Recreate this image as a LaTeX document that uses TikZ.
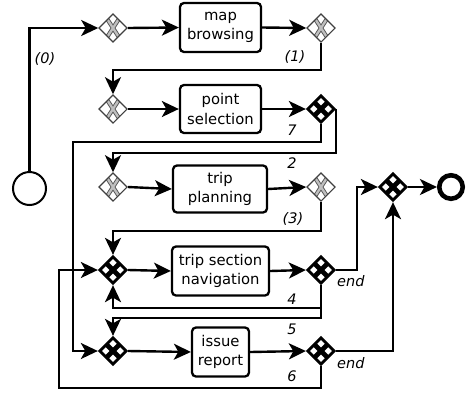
\documentclass[tikz,border=0pt]{standalone}
\usepackage{fontspec}
\setmainfont{DejaVu Sans}[ItalicFont={DejaVu Sans Oblique}]
\usetikzlibrary{shapes.geometric,arrows.meta}

\begin{document}
\begin{tikzpicture}[x=1pt,y=-1pt,
  flow/.style={line width=2.4pt,-{Stealth[length=17pt,width=16pt,inset=4.5pt]}},
  task/.style={draw,line width=2.3pt,rounded corners=4pt,inner sep=0pt,
    align=center,font=\fontsize{14.8}{19.5}\selectfont},
  gw/.style={diamond,inner sep=0pt},
  xorlight/.style={gw,minimum width=28.5pt,minimum height=28.5pt,draw=black!75,line width=1.1pt,
    path picture={
      \draw[line width=4.2pt,black!65]
        ([shift={(-5.5,-8.5)}]path picture bounding box.center) -- ++(11,17)
        ([shift={(5.5,-8.5)}]path picture bounding box.center) -- ++(-11,17);
      \draw[line width=2.3pt,gray!50]
        ([shift={(-5.5,-8.5)}]path picture bounding box.center) -- ++(11,17)
        ([shift={(5.5,-8.5)}]path picture bounding box.center) -- ++(-11,17);
    }},
  xorbold/.style={gw,minimum width=27.5pt,minimum height=27.5pt,draw,line width=2.8pt,
    path picture={
      \draw[line width=4.8pt]
        ([shift={(-8,-8)}]path picture bounding box.center) -- ++(16,16)
        ([shift={(8,-8)}]path picture bounding box.center) -- ++(-16,16);
    }},
  lbl/.style={font=\fontsize{14.5}{14.5}\selectfont\itshape,inner sep=0pt}
]
\useasboundingbox (0,0) rectangle (467,392);

% events
\node[circle,draw,line width=2pt,minimum size=33pt,inner sep=0pt] (start) at (29.5,188.5) {};
\node[circle,draw,line width=4.6pt,minimum size=23.5pt,inner sep=0pt] (stop) at (451,187) {};

% gateways
\node[xorlight] (g1) at (113,28) {};
\node[xorlight] (g2) at (321,28) {};
\node[xorlight] (g3) at (113,109) {};
\node[xorbold]  (g4) at (321,109) {};
\node[xorlight] (g5) at (113,187) {};
\node[xorlight] (g6) at (321,187) {};
\node[xorbold]  (g7) at (113,270) {};
\node[xorbold]  (g8) at (321,270) {};
\node[xorbold]  (g9) at (393,187) {};
\node[xorbold]  (g10) at (113,351) {};
\node[xorbold]  (g11) at (321,351) {};

% tasks
\node[task,minimum width=81pt,minimum height=49pt] (t1) at (220.5,27.5) {map\\browsing};
\node[task,minimum width=81pt,minimum height=48pt] (t2) at (220.5,109) {point\\selection};
\node[task,minimum width=94pt,minimum height=47pt] (t3) at (220,189) {trip\\planning};
\node[task,minimum width=97pt,minimum height=49pt] (t4) at (220.5,271) {trip section\\navigation};
\node[task,minimum width=57pt,minimum height=49pt] (t5) at (220.5,352) {issue\\report};

% main sequence
\draw[flow] (start.north) |- (g1.west);
\draw[flow] (g1.east) -- (t1.west);
\draw[flow] (t1.east) -- (g2.west);
\draw[flow] (g3.east) -- (t2.west);
\draw[flow] (t2.east) -- (g4.west);
\draw[flow] (g5.east) -- (t3.west);
\draw[flow] (t3.east) -- (g6.west);
\draw[flow] (g7.east) -- (t4.west);
\draw[flow] (t4.east) -- (g8.west);
\draw[flow] (g10.east) -- (t5.west);
\draw[flow] (t5.east) -- (g11.west);
\draw[flow] (g9.east) -- (stop.west);

% loops between rows
\draw[flow] (g2.south) -- ++(0,27) -| (g3.north);
\draw[flow] (g4.south) |- (73,142) |- (g10.west);
\draw[flow] (g4.east) -- ++(0,44) -| (g5.north);
\draw[flow] (g6.south) -- ++(0,29) -| (g7.north);
\draw[flow] (g8.east) -- ++(21,0) |- (g9.west);
\draw[flow] (g8.south) -- ++(0,23) -| (g7.south);
\draw[flow] (g8.south) -- ++(0,33) -| (g10.north);
\draw[flow] (g11.east) -| (g9.south);
\draw[flow] (g11.south) |- (59,388) |- (g7.west);

% labels
\node[lbl] (l0) at (45,59) {(0)};
\node[lbl] (l1) at (295,57) {(1)};
\node[lbl] (l7) at (292,130) {7};
\node[lbl] (l2) at (292,163) {2};
\node[lbl] (l3) at (293,219) {(3)};
\node[lbl,anchor=west] (le1) at (337,281) {end};
\node[lbl] (l4) at (292,299) {4};
\node[lbl] (l5) at (292,329) {5};
\node[lbl,anchor=west] (le2) at (337,363) {end};
\node[lbl] (l6) at (292,376) {6};
\end{tikzpicture}
\end{document}
